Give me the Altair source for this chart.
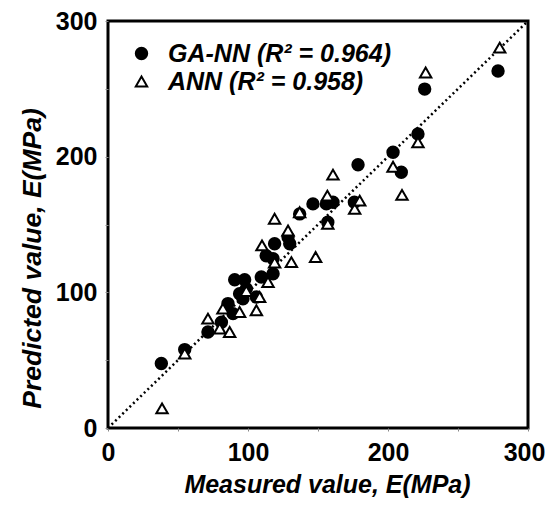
import altair as alt
import pandas as pd

ga_x = [38.1, 54.8, 71.4, 81, 85.7, 89.3, 90.5, 97.6, 94, 98.8, 96.4, 106, 109.5, 117.9, 113, 119, 117.9, 128.6, 129.8, 136.9, 146.4, 156, 160.7, 157, 176, 178.6, 203.6, 209.5, 221.4, 226.2, 278.6]
ga_y = [47.5, 57.8, 70.8, 78, 91.7, 84.3, 109.3, 109.3, 99, 102.7, 95.3, 96.6, 111.3, 113.7, 127, 135.8, 124.8, 140.7, 135.8, 157.8, 165.2, 165.2, 166.4, 151.7, 166.4, 194, 203.2, 188.5, 216.7, 249.8, 263.2]
ann_x = [38.6, 54.8, 71.4, 82.1, 79.8, 86.9, 94, 98.8, 106, 108.3, 114.3, 110, 119, 119, 131, 128.6, 136.9, 148.3, 156.7, 160.7, 157, 176.2, 179.8, 203.6, 210, 221.4, 226.9, 279.8]
ann_y = [14.5, 54.9, 80.6, 88, 73.3, 70.8, 85.5, 101, 86.8, 96.6, 107.6, 134.6, 154.2, 122, 122.3, 145.6, 159, 126, 171.3, 186.8, 150.5, 161.5, 167.6, 192.6, 171.8, 210.5, 262, 280.4]
series_names = ["GA-NN (R² = 0.964)", "ANN (R² = 0.958)"]
diag = [0, 300]
tick_vals = [0, 50, 100, 150, 200, 250, 300]

df = pd.DataFrame({
    "x": ga_x + ann_x,
    "y": ga_y + ann_y,
    "s": [series_names[0]] * len(ga_x) + [series_names[1]] * len(ann_x),
})
dline = pd.DataFrame({"x": diag, "y": diag})

FONT = "Liberation Sans"
xs = alt.Scale(domain=[0, 300], nice=False, zero=False)
ys = alt.Scale(domain=[0, 300], nice=False, zero=False)

line = alt.Chart(dline).mark_line(color="black", strokeDash=[2, 3], strokeWidth=2.5).encode(
    x=alt.X("x:Q", scale=xs), y=alt.Y("y:Q", scale=ys)
)

leg = dict(title=None, orient="none", legendX=21, legendY=20)
pts = alt.Chart(df).mark_point(size=130, strokeWidth=2, opacity=1).encode(
    x=alt.X("x:Q", scale=xs, title="Measured value, E(MPa)",
            axis=alt.Axis(values=tick_vals, labelExpr="datum.value % 100 == 0 ? datum.label : ''",
                          labelOffset={"condition": {"test": "datum.value == 300", "value": -4}, "value": 0},
                          titleX=219, titleY=56, titleBaseline="middle", titleFontSize=25)),
    y=alt.Y("y:Q", scale=ys, title="Predicted value, E(MPa)",
            axis=alt.Axis(values=tick_vals, labelExpr="datum.value % 100 == 0 ? datum.label : ''",
                          titleX=-76, titleY=237, titleBaseline="middle", titleFontSize=26.5)),
    shape=alt.Shape("s:N", scale=alt.Scale(domain=series_names, range=["circle", "triangle-up"]),
                    legend=alt.Legend(**leg)),
    fill=alt.Fill("s:N", scale=alt.Scale(domain=series_names, range=["black", "white"]),
                  legend=alt.Legend(**leg)),
    color=alt.Color("s:N", scale=alt.Scale(domain=series_names, range=["black", "black"]),
                    legend=alt.Legend(**leg)),
)

chart = alt.layer(line, pts).properties(
    width=420, height=407,
    autosize=alt.AutoSizeParams(type="none"),
    padding={"left": 100, "top": 13, "right": 17, "bottom": 70},
).configure_view(stroke="black", strokeWidth=3).configure_axis(
    grid=False, domain=False, tickSize=3, tickColor="#888",
    labelFont=FONT, labelFontSize=25, labelFontWeight="bold", labelColor="black",
    titleFont=FONT, titleFontWeight="bold", titleFontStyle="italic", titleColor="black",
).configure_axisX(labelPadding=9, labelFlush=False).configure_axisY(
    labelPadding=8
).configure_legend(
    labelFont=FONT, labelFontSize=25, labelFontWeight="bold", labelFontStyle="italic",
    labelColor="black", symbolSize=130, symbolStrokeWidth=2, labelOffset=14, rowPadding=2,
    labelLimit=400, padding=0
)

chart.save("out.html", embed_options={"renderer": "svg", "actions": False})
